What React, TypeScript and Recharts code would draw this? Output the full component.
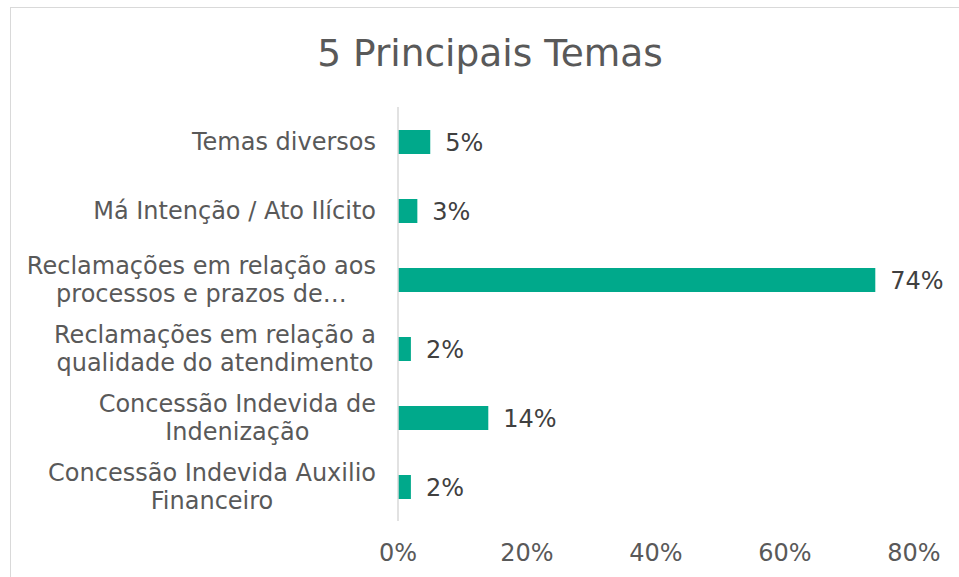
import React from 'react';
import { BarChart, Bar, XAxis, YAxis, LabelList } from 'recharts';

const temas = [
  'Temas diversos',
  'Má Intenção / Ato Ilícito',
  'Reclamações em relação aos processos e prazos de…',
  'Reclamações em relação a qualidade do atendimento',
  'Concessão Indevida de Indenização',
  'Concessão Indevida Auxilio Financeiro',
];

// linhas do rótulo como aparecem no gráfico
const linhasRotulo = [
  ['Temas diversos'],
  ['Má Intenção / Ato Ilícito'],
  ['Reclamações em relação aos', 'processos e prazos de…'],
  ['Reclamações em relação a', 'qualidade do atendimento'],
  ['Concessão Indevida de', 'Indenização'],
  ['Concessão Indevida Auxilio', 'Financeiro'],
];

const percentuais = [5, 3, 74, 2, 14, 2];

const ticksX = [0, 20, 40, 60, 80];

const dados = temas.map((tema, i) => ({ tema, valor: percentuais[i] }));

const FONTE = '"DejaVu Sans", Verdana, sans-serif';
const COR_BARRA = '#00A98B';
const TAM_FONTE = 24;

let ctx: CanvasRenderingContext2D | null = null;
const larguraTexto = (t: string) => {
  if (!ctx) ctx = document.createElement('canvas').getContext('2d');
  if (!ctx) return t.length * TAM_FONTE * 0.6;
  ctx.font = `${TAM_FONTE}px ${FONTE}`;
  return ctx.measureText(t).width;
};

// bloco alinhado à direita, linhas centralizadas entre si (como no Excel)
const TickTema = (props: any) => {
  const { x, y, payload } = props;
  const idx = temas.indexOf(payload.value);
  const linhas = idx >= 0 ? linhasRotulo[idx] : [payload.value];
  const alturaLinha = 28;
  const inicio = -((linhas.length - 1) * alturaLinha) / 2;
  const larguraBloco = Math.max(...linhas.map(larguraTexto));
  const cx = x - larguraBloco / 2;
  return (
    <text x={cx} y={y} textAnchor="middle" fill="#595959" fontSize={TAM_FONTE} fontFamily={FONTE}>
      {linhas.map((l: string, i: number) => (
        <tspan key={i} x={cx} dy={i === 0 ? inicio + 8 : alturaLinha}>
          {l}
        </tspan>
      ))}
    </text>
  );
};

export default function App() {
  return (
    <div
      style={{
        position: 'absolute',
        left: 10,
        top: 7,
        width: 952,
        height: 580,
        border: '1px solid #d9d9d9',
        background: '#fff',
        fontFamily: FONTE,
      }}
    >
      <div
        style={{
          position: 'absolute',
          left: 0,
          top: 23,
          width: 958,
          textAlign: 'center',
          fontSize: 37.5,
          color: '#595959',
          fontFamily: FONTE,
        }}
      >
        5 Principais Temas
      </div>
      <BarChart
        width={950}
        height={569}
        data={dados}
        layout="vertical"
        margin={{ top: 99, right: 47, bottom: 16, left: 0 }}
      >
        <XAxis
          type="number"
          domain={[0, 80]}
          ticks={ticksX}
          tickFormatter={(v: number) => `${v}%`}
          axisLine={false}
          tickLine={false}
          tickSize={0}
          tickMargin={23}
          height={40}
          tick={{ fill: '#595959', fontSize: TAM_FONTE, fontFamily: FONTE }}
          interval={0}
        />
        <YAxis
          type="category"
          dataKey="tema"
          width={387}
          axisLine={{ stroke: '#d9d9d9', strokeWidth: 1.5 }}
          tickLine={false}
          tickSize={0}
          tickMargin={22}
          tick={<TickTema />}
          interval={0}
        />
        <Bar dataKey="valor" fill={COR_BARRA} barSize={24} isAnimationActive={false}>
          <LabelList
            dataKey="valor"
            position="right"
            offset={15}
            formatter={(v: any) => `${v}%`}
            fill="#404040"
            fontSize={TAM_FONTE}
            fontFamily={FONTE}
          />
        </Bar>
      </BarChart>
    </div>
  );
}
